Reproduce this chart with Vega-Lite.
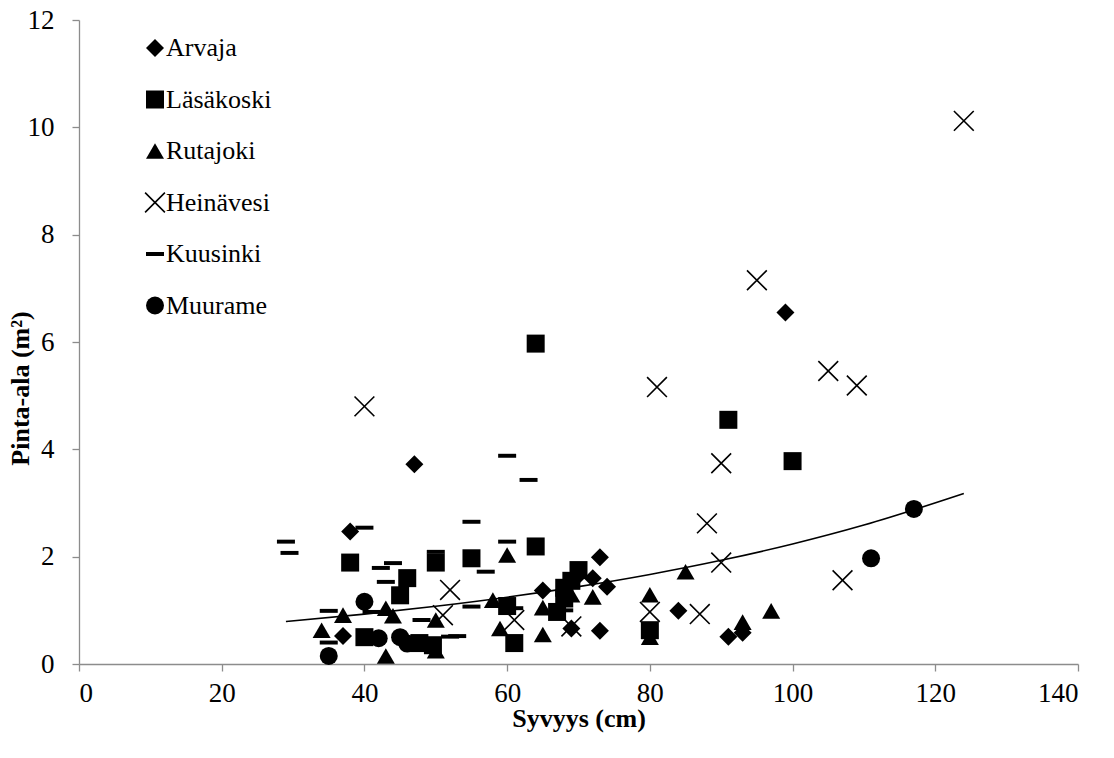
{
  "$schema": "https://vega.github.io/schema/vega-lite/v6.json",
  "width": 999,
  "height": 644,
  "autosize": "none",
  "padding": {"left": 79, "top": 20, "right": 36, "bottom": 94},
  "background": "white",
  "config": {"view": {"stroke": null}, "font": "Liberation Serif"},
  "datasets": {
    "trend": [
      {"x": 29, "y": 0.791}, {"x": 40, "y": 0.93}, {"x": 50, "y": 1.076}, {"x": 60, "y": 1.245},
      {"x": 70, "y": 1.442}, {"x": 80, "y": 1.669}, {"x": 90, "y": 1.932}, {"x": 100, "y": 2.236},
      {"x": 110, "y": 2.589}, {"x": 124, "y": 3.177}
    ],
    "points": [
      {"site": "Arvaja", "x": 47, "y": 3.72}, {"site": "Arvaja", "x": 38, "y": 2.47}, {"site": "Arvaja", "x": 37, "y": 0.52},
      {"site": "Arvaja", "x": 73, "y": 1.99}, {"site": "Arvaja", "x": 65, "y": 1.37}, {"site": "Arvaja", "x": 72, "y": 1.6},
      {"site": "Arvaja", "x": 74, "y": 1.44}, {"site": "Arvaja", "x": 69, "y": 0.66}, {"site": "Arvaja", "x": 73, "y": 0.62},
      {"site": "Arvaja", "x": 84, "y": 0.99}, {"site": "Arvaja", "x": 91, "y": 0.51}, {"site": "Arvaja", "x": 93, "y": 0.58},
      {"site": "Arvaja", "x": 99, "y": 6.55}, {"site": "Arvaja", "x": 70, "y": 1.65},

      {"site": "Läsäkoski", "x": 64, "y": 5.97}, {"site": "Läsäkoski", "x": 91, "y": 4.55}, {"site": "Läsäkoski", "x": 100, "y": 3.78},
      {"site": "Läsäkoski", "x": 38, "y": 1.89}, {"site": "Läsäkoski", "x": 50, "y": 1.89}, {"site": "Läsäkoski", "x": 55, "y": 1.97},
      {"site": "Läsäkoski", "x": 64, "y": 2.19}, {"site": "Läsäkoski", "x": 46, "y": 1.6}, {"site": "Läsäkoski", "x": 45, "y": 1.28},
      {"site": "Läsäkoski", "x": 40, "y": 0.5}, {"site": "Läsäkoski", "x": 47.7, "y": 0.39}, {"site": "Läsäkoski", "x": 49.6, "y": 0.35},
      {"site": "Läsäkoski", "x": 60, "y": 1.08}, {"site": "Läsäkoski", "x": 61, "y": 0.39}, {"site": "Läsäkoski", "x": 67, "y": 0.97},
      {"site": "Läsäkoski", "x": 70, "y": 1.75}, {"site": "Läsäkoski", "x": 69, "y": 1.55}, {"site": "Läsäkoski", "x": 68, "y": 1.42},
      {"site": "Läsäkoski", "x": 68, "y": 1.22}, {"site": "Läsäkoski", "x": 80, "y": 0.63},

      {"site": "Rutajoki", "x": 34, "y": 0.63}, {"site": "Rutajoki", "x": 37, "y": 0.91}, {"site": "Rutajoki", "x": 43, "y": 1.04},
      {"site": "Rutajoki", "x": 44, "y": 0.9}, {"site": "Rutajoki", "x": 43, "y": 0.15}, {"site": "Rutajoki", "x": 50, "y": 0.82},
      {"site": "Rutajoki", "x": 50, "y": 0.25}, {"site": "Rutajoki", "x": 60, "y": 2.03}, {"site": "Rutajoki", "x": 58, "y": 1.19},
      {"site": "Rutajoki", "x": 59, "y": 0.66}, {"site": "Rutajoki", "x": 65, "y": 1.05}, {"site": "Rutajoki", "x": 65, "y": 0.55},
      {"site": "Rutajoki", "x": 69, "y": 1.29}, {"site": "Rutajoki", "x": 72, "y": 1.25}, {"site": "Rutajoki", "x": 80, "y": 1.29},
      {"site": "Rutajoki", "x": 80, "y": 0.5}, {"site": "Rutajoki", "x": 85, "y": 1.72}, {"site": "Rutajoki", "x": 93, "y": 0.78},
      {"site": "Rutajoki", "x": 97, "y": 0.99},

      {"site": "Heinävesi", "x": 124, "y": 10.12}, {"site": "Heinävesi", "x": 95, "y": 7.15}, {"site": "Heinävesi", "x": 105, "y": 5.46},
      {"site": "Heinävesi", "x": 109, "y": 5.19}, {"site": "Heinävesi", "x": 81, "y": 5.16}, {"site": "Heinävesi", "x": 40, "y": 4.8},
      {"site": "Heinävesi", "x": 90, "y": 3.74}, {"site": "Heinävesi", "x": 88, "y": 2.62}, {"site": "Heinävesi", "x": 90, "y": 1.89},
      {"site": "Heinävesi", "x": 107, "y": 1.56}, {"site": "Heinävesi", "x": 80, "y": 0.97}, {"site": "Heinävesi", "x": 87, "y": 0.93},
      {"site": "Heinävesi", "x": 69, "y": 0.7}, {"site": "Heinävesi", "x": 61, "y": 0.82}, {"site": "Heinävesi", "x": 52, "y": 1.38},
      {"site": "Heinävesi", "x": 51, "y": 0.91},

      {"site": "Kuusinki", "x": 29, "y": 2.28}, {"site": "Kuusinki", "x": 29.5, "y": 2.07}, {"site": "Kuusinki", "x": 40, "y": 2.54},
      {"site": "Kuusinki", "x": 55, "y": 2.65}, {"site": "Kuusinki", "x": 60, "y": 3.88}, {"site": "Kuusinki", "x": 63, "y": 3.43},
      {"site": "Kuusinki", "x": 60, "y": 2.28}, {"site": "Kuusinki", "x": 50, "y": 2.09}, {"site": "Kuusinki", "x": 35, "y": 0.99},
      {"site": "Kuusinki", "x": 35, "y": 0.4}, {"site": "Kuusinki", "x": 44, "y": 1.88}, {"site": "Kuusinki", "x": 42.3, "y": 1.79},
      {"site": "Kuusinki", "x": 43, "y": 1.53}, {"site": "Kuusinki", "x": 48, "y": 0.82}, {"site": "Kuusinki", "x": 41, "y": 0.97},
      {"site": "Kuusinki", "x": 52, "y": 0.51}, {"site": "Kuusinki", "x": 53, "y": 0.52}, {"site": "Kuusinki", "x": 57, "y": 1.72},
      {"site": "Kuusinki", "x": 55, "y": 1.07}, {"site": "Kuusinki", "x": 61, "y": 1.04}, {"site": "Kuusinki", "x": 68, "y": 1.0},

      {"site": "Muurame", "x": 117, "y": 2.89}, {"site": "Muurame", "x": 111, "y": 1.97}, {"site": "Muurame", "x": 40, "y": 1.16},
      {"site": "Muurame", "x": 35, "y": 0.15}, {"site": "Muurame", "x": 42, "y": 0.48}, {"site": "Muurame", "x": 45, "y": 0.5},
      {"site": "Muurame", "x": 46, "y": 0.38}
    ]
  },
  "encoding": {
    "x": {
      "field": "x", "type": "quantitative",
      "scale": {"domain": [0, 140], "nice": false, "zero": false},
      "axis": {
        "values": [0, 20, 40, 60, 80, 100, 120, 140], "grid": false,
        "domainColor": "#8c8c8c", "tickColor": "#8c8c8c", "tickSize": 7, "domainWidth": 1.3, "tickWidth": 1.3,
        "labelFont": "Liberation Serif", "labelFontSize": 27, "labelColor": "black", "labelPadding": 9,
        "title": "Syvyys (cm)", "titleFont": "Liberation Serif", "titleFontSize": 26, "titleFontWeight": "bold",
        "titleColor": "black", "titleBaseline": "alphabetic", "titleY": 62
      }
    },
    "y": {
      "field": "y", "type": "quantitative",
      "scale": {"domain": [0, 12], "nice": false},
      "axis": {
        "values": [0, 2, 4, 6, 8, 10, 12], "grid": false,
        "domainColor": "#8c8c8c", "tickColor": "#8c8c8c", "tickSize": 7, "domainWidth": 1.3, "tickWidth": 1.3,
        "labelFont": "Liberation Serif", "labelFontSize": 27, "labelColor": "black", "labelPadding": 18,
        "title": "Pinta-ala (m²)", "titleFont": "Liberation Serif", "titleFontSize": 26, "titleFontWeight": "bold",
        "titleColor": "black", "titleBaseline": "alphabetic", "titleX": -51, "titleY": 368
      }
    }
  },
  "layer": [
    {
      "data": {"name": "trend"},
      "mark": {"type": "line", "color": "black", "strokeWidth": 1.6, "interpolate": "monotone"},
      "encoding": {}
    },
    {
      "data": {"name": "points"},
      "mark": {"type": "point", "filled": true, "color": "black", "strokeWidth": 0, "size": 324, "opacity": 1},
      "encoding": {
        "shape": {
          "field": "site", "type": "nominal",
          "scale": {
            "domain": ["Arvaja", "Läsäkoski", "Rutajoki", "Heinävesi", "Kuusinki", "Muurame"],
            "range": [
              "diamond", "square", "triangle-up",
              "M-1.037,-1.163L1.163,1.037L1.037,1.163L-1.163,-1.037ZM-1.037,1.163L-1.163,1.037L1.037,-1.163L1.163,-1.037Z",
              "M-1,-0.22L1,-0.22L1,0.22L-1,0.22Z",
              "circle"
            ]
          },
          "legend": {
            "title": null, "orient": "none", "legendX": 63, "legendY": 15, "padding": 0,
            "labelFont": "Liberation Serif", "labelFontSize": 26, "labelColor": "black", "labelOffset": -2,
            "rowPadding": 25.5, "symbolSize": 324, "symbolFillColor": "black",
            "symbolStrokeWidth": 0, "symbolOpacity": 1
          }
        }
      }
    }
  ]
}
